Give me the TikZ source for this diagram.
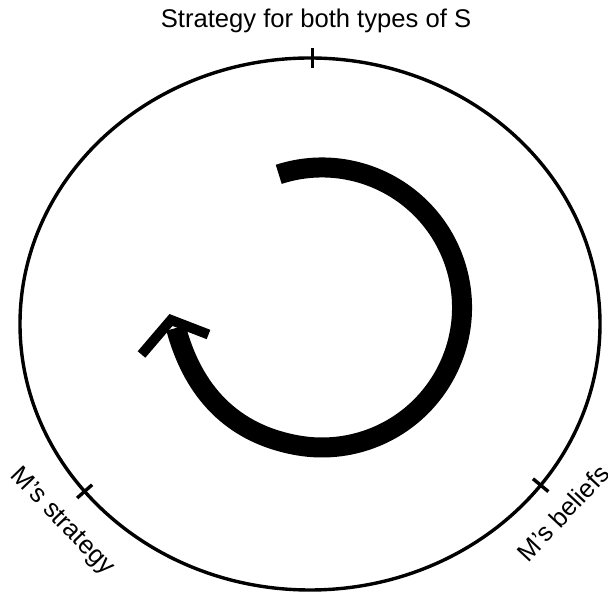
\documentclass[tikz,border=0pt]{standalone}
\usepackage{fontspec}
\setmainfont{Liberation Sans}
\begin{document}
\begin{tikzpicture}[x=1pt,y=1pt,
  lbl/.style={font=\fontsize{25.6}{30}\selectfont, inner sep=0pt},
  rim/.style={line width=3.4pt},
  tickmark/.style={line width=3.4pt},
  cyc/.style={line width=20pt, line cap=butt, line join=round},
  barb/.style={line width=10pt, miter limit=10, line join=miter, line cap=butt}]
\useasboundingbox (0,0) rectangle (608,594);
\fill[white] (0,0) rectangle (608,594);
\coordinate (C) at (310,270);
\draw[rim] (C) ellipse [x radius=290, y radius=266];
% tick marks on the rim
\path (C) ++(89.5:290 and 266) coordinate (Ttop);
\path (C) ++(-141:290 and 266) coordinate (Tstr);
\path (C) ++(-37.3:290 and 266) coordinate (Tbel);
\draw[tickmark] (Ttop) ++(-90:10) -- ++(90:20);
\draw[tickmark] (Tstr) ++(41.4:10) -- ++(221.4:20);
\draw[tickmark] (Tbel) ++(140.3:10) -- ++(-39.7:20);
% the cycle arrow
\coordinate (A) at (322,286.5);
\coordinate (Aend) at (176,266);
\draw[cyc] (A) ++(108:140) arc[start angle=108, end angle=-100, radius=140]
  to[out=170, in=-75] (Aend);
\draw[barb] (141.5,239.5) -- (171,274) -- (208.5,259.5);
% labels
\node[lbl, anchor=base] (top) at (316,566) {Strategy for both types of S};
\node[lbl, rotate=-46] (ms) at (62,72) {M’s strategy};
\node[lbl, rotate=47] (mb) at (563,81) {M’s beliefs};
\end{tikzpicture}
\end{document}
